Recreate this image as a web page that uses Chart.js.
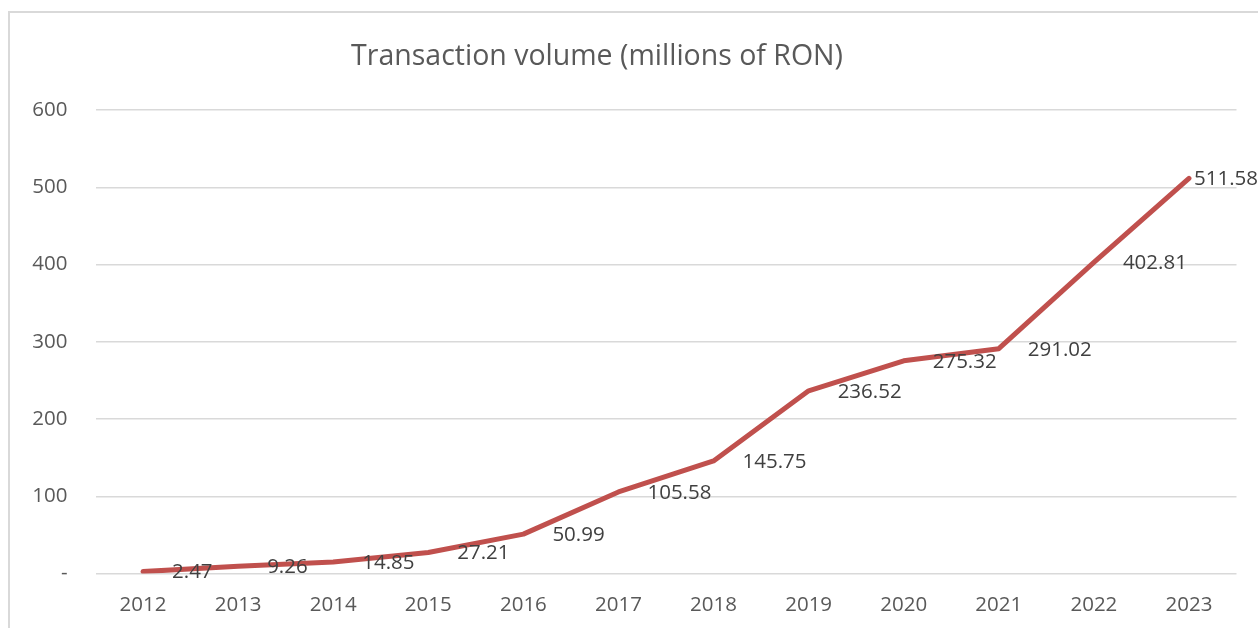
<!DOCTYPE html>
<html>
<head>
<meta charset="utf-8">
<title>Transaction volume</title>
<script src="https://cdn.jsdelivr.net/npm/chart.js@4"></script>
<style>
    html, body { margin: 0; padding: 0; background: #ffffff; overflow: hidden; }
    #marco {
        position: absolute; left: 8px; top: 11px; width: 1300px; height: 700px;
        border-left: 2px solid #d9d9d9; border-top: 2px solid #d9d9d9;
    }
    #chartVolumen { position: absolute; left: 0; top: 0; }
</style>
</head>
<body>
<div id="marco"></div>
<canvas id="chartVolumen" width="1258" height="628"></canvas>
<script>
// ===== Datos del grafico =====
const years = ['2012', '2013', '2014', '2015', '2016', '2017', '2018', '2019', '2020', '2021', '2022', '2023'];
const volume = [2.47, 9.26, 14.85, 27.21, 50.99, 105.58, 145.75, 236.52, 275.32, 291.02, 402.81, 511.58];
const yTicks = [0, 100, 200, 300, 400, 500, 600];
const titulo = 'Transaction volume (millions of RON)';

const fuente = "'Open Sans', 'DejaVu Sans', sans-serif";
const grisTexto = '#595959';

// Titulo centrado como en el original
const tituloPlugin = {
    id: 'tituloCentrado',
    afterDraw(chart) {
        const ctx = chart.ctx;
        ctx.save();
        ctx.font = '28.5px ' + fuente;
        ctx.fillStyle = grisTexto;
        ctx.textAlign = 'center';
        ctx.textBaseline = 'middle';
        ctx.fillText(titulo, 597, 57);
        ctx.restore();
    }
};

// Etiquetas de valor a la derecha de cada punto
const etiquetasPlugin = {
    id: 'etiquetas',
    afterDatasetsDraw(chart) {
        const ctx = chart.ctx;
        const meta = chart.getDatasetMeta(0);
        ctx.save();
        ctx.font = '20.5px ' + fuente;
        ctx.fillStyle = '#404040';
        ctx.textAlign = 'left';
        ctx.textBaseline = 'middle';
        meta.data.forEach(function(p, i) {
            const txt = volume[i].toFixed(2);
            const w = ctx.measureText(txt).width;
            const x = Math.min(p.x + 29, chart.width - w);
            ctx.fillText(txt, x, p.y + 1);
        });
        ctx.restore();
    }
};

document.addEventListener('DOMContentLoaded', function() {
    const ctx = document.getElementById('chartVolumen');
    new Chart(ctx, {
        type: 'line',
        data: {
            labels: years,
            datasets: [{
                data: volume,
                borderColor: '#C0504D',
                backgroundColor: '#C0504D',
                borderWidth: 5,
                pointRadius: 0,
                tension: 0,
                borderCapStyle: 'round',
                borderJoinStyle: 'round'
            }]
        },
        options: {
            responsive: false,
            animation: false,
            devicePixelRatio: 1,
            layout: {
                padding: { left: 0, right: 21.5, top: 110, bottom: 0 }
            },
            plugins: {
                legend: { display: false },
                tooltip: { enabled: false },
                title: { display: false }
            },
            scales: {
                x: {
                    offset: true,
                    afterFit: function(axis) {
                        axis.height = 54.5;
                    },
                    grid: { display: false, drawTicks: false },
                    border: { display: false },
                    ticks: {
                        color: grisTexto,
                        font: { family: fuente, size: 20.5, lineHeight: 1.2 },
                        padding: 19,
                        maxRotation: 0,
                        autoSkip: false
                    }
                },
                y: {
                    min: 0,
                    max: 600,
                    afterBuildTicks: function(axis) {
                        axis.ticks = yTicks.map(function(v) { return { value: v }; });
                    },
                    afterFit: function(axis) {
                        axis.width = 95.5;
                    },
                    grid: { color: '#d9d9d9', lineWidth: 1.5, drawTicks: false },
                    border: { display: false },
                    ticks: {
                        color: grisTexto,
                        font: { family: fuente, size: 20.5, lineHeight: 1.2 },
                        padding: 28,
                        callback: function(value) {
                            return value === 0 ? '-' : value;
                        }
                    }
                }
            }
        },
        plugins: [etiquetasPlugin, tituloPlugin]
    });
});
</script>
</body>
</html>
